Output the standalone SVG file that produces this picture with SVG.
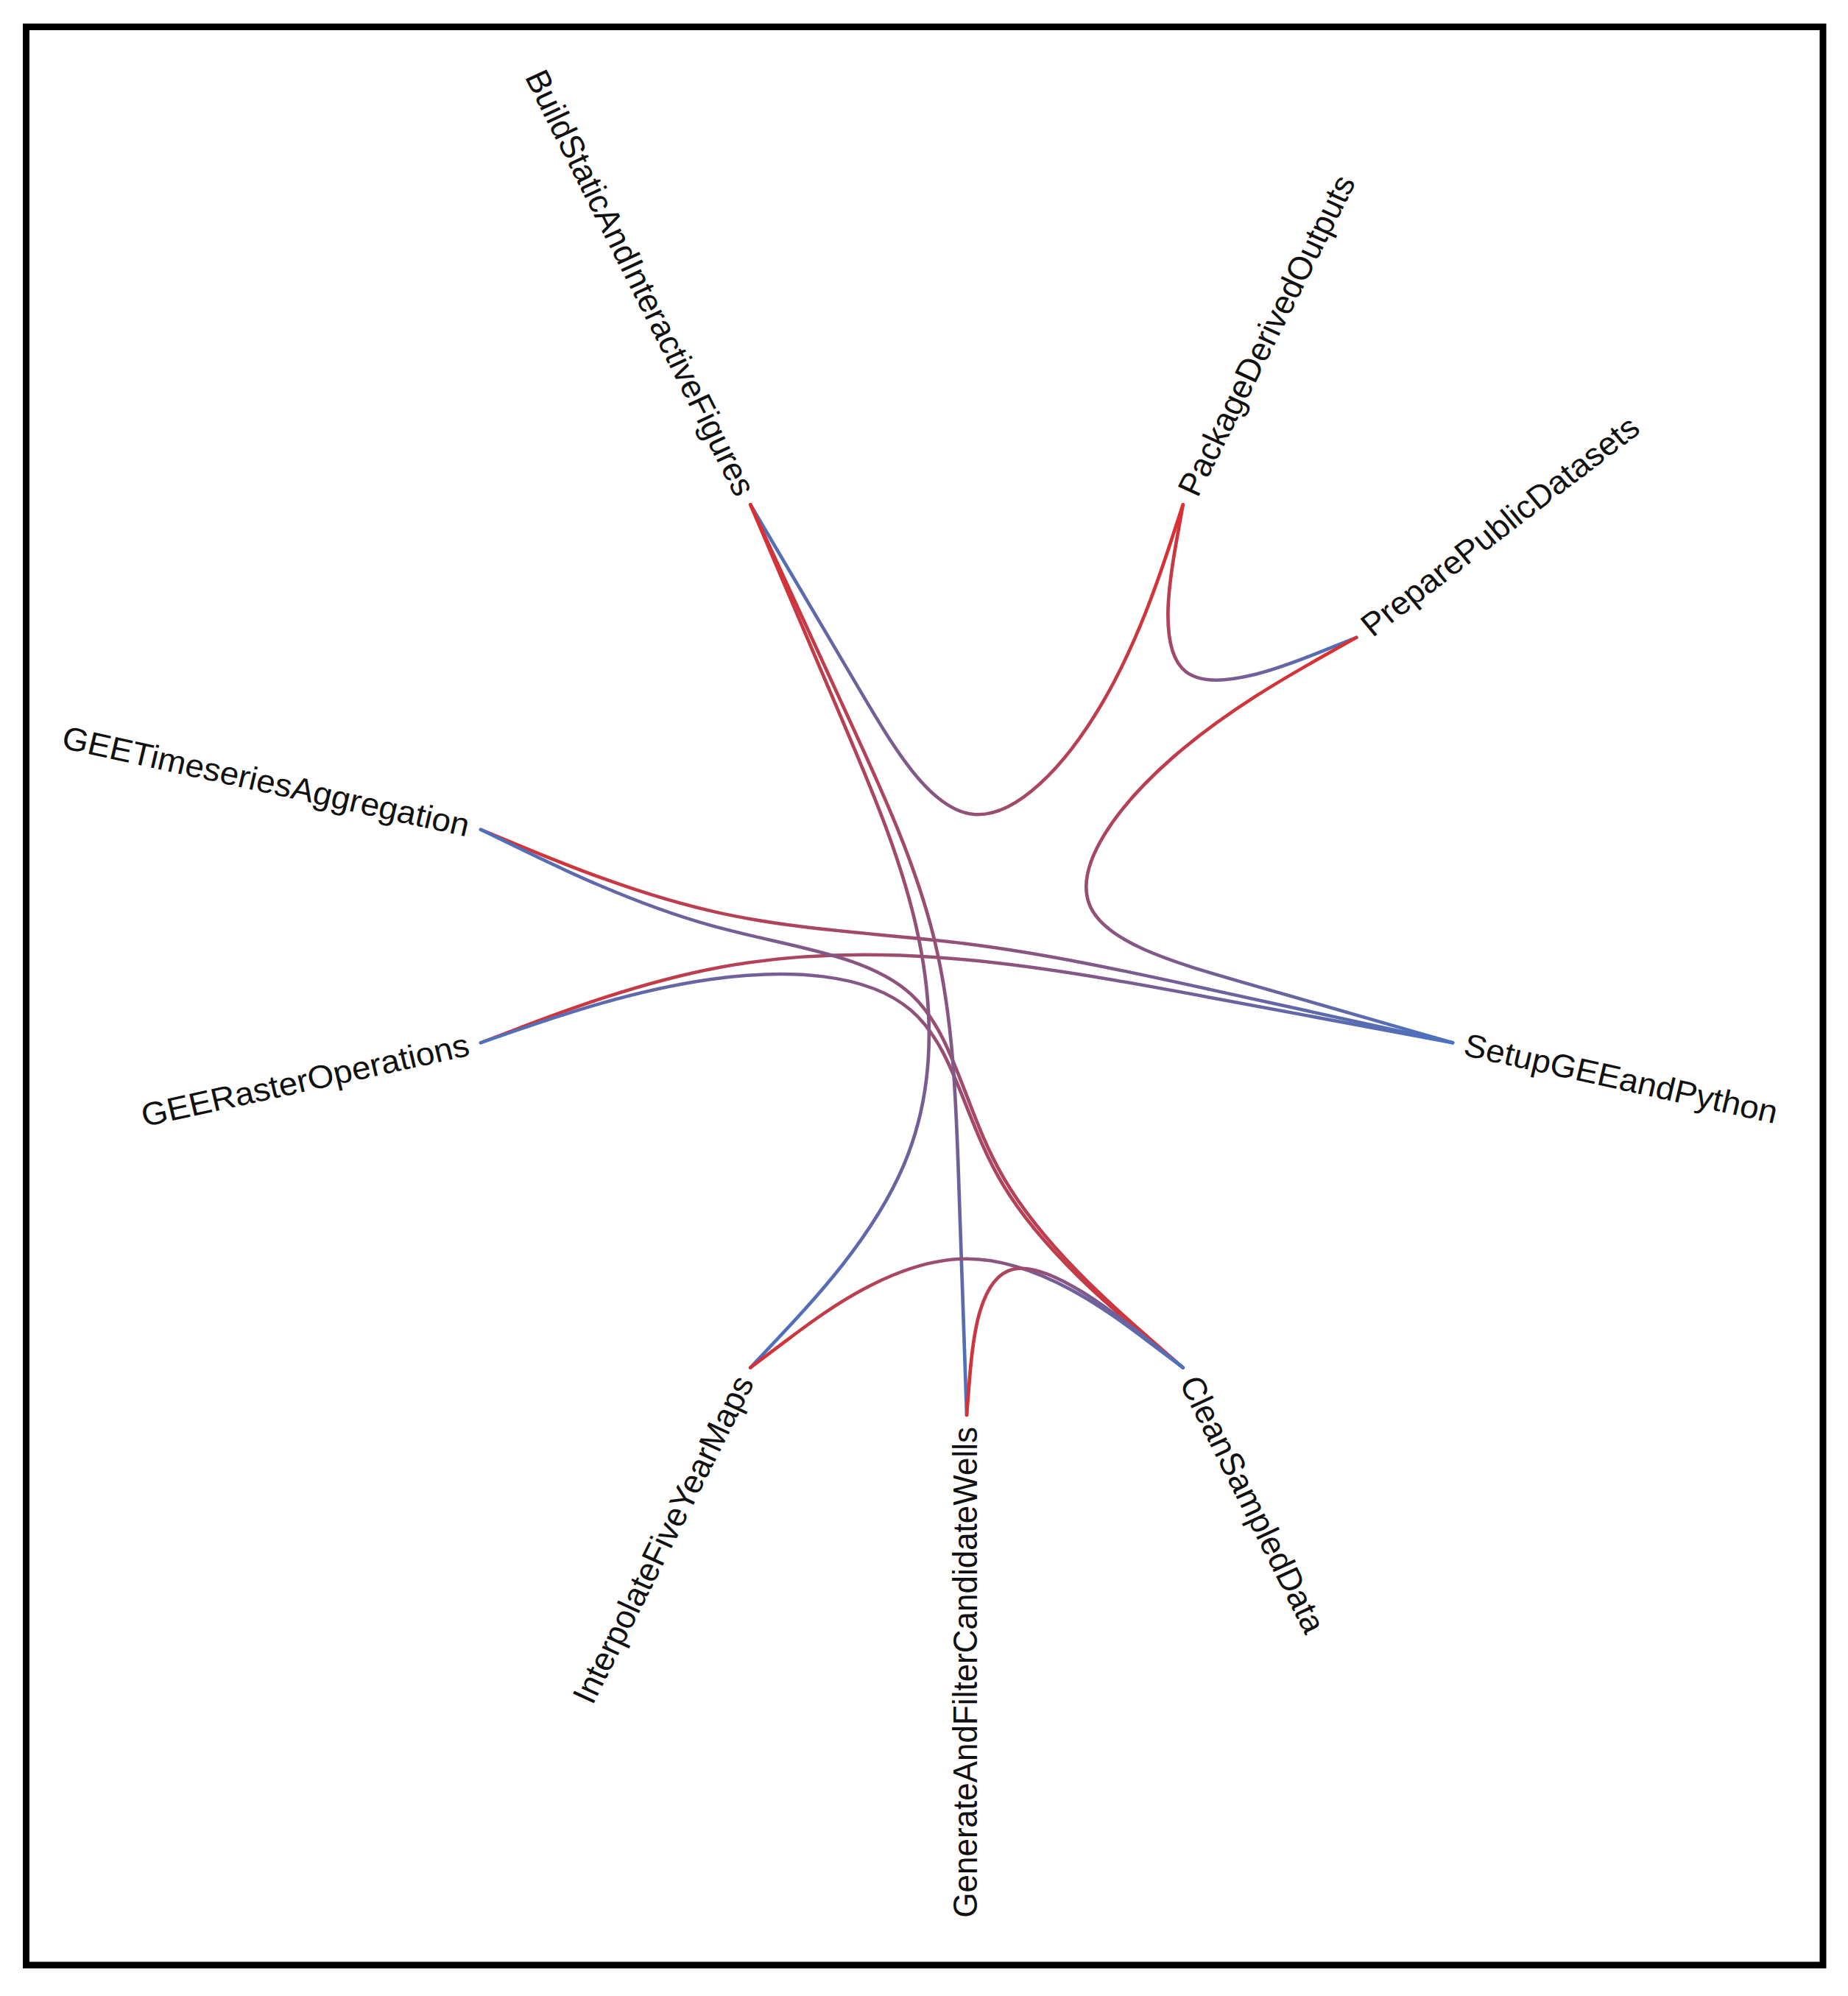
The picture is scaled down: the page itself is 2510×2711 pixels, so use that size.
<svg xmlns="http://www.w3.org/2000/svg" width="2510" height="2711" viewBox="0 0 2510 2711">
<style>
.lbl{font-family:"Liberation Sans",Arial,Helvetica,sans-serif;font-size:44px;fill:#111}
.edge{fill:none;stroke-width:4.5;stroke-linecap:round}
</style>
<defs>
<linearGradient id="gbase"><stop offset="0" stop-color="#dc2f2f"/><stop offset="1" stop-color="#4a72c0"/></linearGradient>
<linearGradient id="g1" href="#gbase" gradientUnits="userSpaceOnUse" x1="282.24" y1="-586.08" x2="-282.24" y2="-586.08"/>
<linearGradient id="g2" href="#gbase" gradientUnits="userSpaceOnUse" x1="282.24" y1="-586.08" x2="508.58" y2="-405.58"/>
<linearGradient id="g3" href="#gbase" gradientUnits="userSpaceOnUse" x1="508.58" y1="-405.58" x2="634.19" y2="144.75"/>
<linearGradient id="g4" href="#gbase" gradientUnits="userSpaceOnUse" x1="-634.19" y1="-144.75" x2="634.19" y2="144.75"/>
<linearGradient id="g5" href="#gbase" gradientUnits="userSpaceOnUse" x1="-634.19" y1="144.75" x2="634.19" y2="144.75"/>
<linearGradient id="g6" href="#gbase" gradientUnits="userSpaceOnUse" x1="282.24" y1="586.08" x2="-634.19" y2="-144.75"/>
<linearGradient id="g7" href="#gbase" gradientUnits="userSpaceOnUse" x1="282.24" y1="586.08" x2="-634.19" y2="144.75"/>
<linearGradient id="g8" href="#gbase" gradientUnits="userSpaceOnUse" x1="-282.24" y1="-586.08" x2="0" y2="650.5"/>
<linearGradient id="g9" href="#gbase" gradientUnits="userSpaceOnUse" x1="-282.24" y1="-586.08" x2="-282.24" y2="586.08"/>
<linearGradient id="g10" href="#gbase" gradientUnits="userSpaceOnUse" x1="-282.24" y1="586.08" x2="282.24" y2="586.08"/>
<linearGradient id="g11" href="#gbase" gradientUnits="userSpaceOnUse" x1="0" y1="650.5" x2="282.24" y2="586.08"/>
</defs>
<rect x="0" y="0" width="2510" height="2711" fill="#fff"/>
<rect x="35.5" y="36.5" width="2440.5" height="2632.5" fill="none" stroke="#000" stroke-width="9"/>
<g transform="translate(1313,1271.5) scale(1.0407,1)">
<g id="connectors">
<path class="edge" stroke="url(#g1)" d="M282.24,-586.08 L267.46,-539.08 C252.67,-492.07 223.11,-398.07 176.07,-315.04 C129.03,-232.01 64.51,-159.96 8.74,-165.45 C-47.04,-170.94 -94.08,-253.96 -141.12,-336.99 C-188.16,-420.02 -235.20,-503.05 -258.72,-544.57 L-282.24,-586.08"/>
<path class="edge" stroke="url(#g2)" d="M282.24,-586.08 L273.81,-536.82 C265.39,-487.56 248.53,-389.04 286.26,-358.96 C323.98,-328.87 416.28,-367.23 462.43,-386.40 L508.58,-405.58"/>
<path class="edge" stroke="url(#g3)" d="M508.58,-405.58 L466.05,-380.71 C423.51,-355.84 338.44,-306.09 267.96,-241.76 C197.48,-177.42 141.60,-98.49 159.36,-45.33 C177.13,7.82 268.54,35.21 359.96,62.59 C451.37,89.98 542.78,117.36 588.49,131.06 L634.19,144.75"/>
<path class="edge" stroke="url(#g4)" d="M-634.19,-144.75 L-582.50,-122.44 C-530.80,-100.12 -427.42,-55.49 -321.72,-31.37 C-216.02,-7.24 -108.01,-3.62 -1.15,10.25 C105.70,24.12 211.41,48.25 317.11,72.37 C422.80,96.50 528.50,120.62 581.34,132.69 L634.19,144.75"/>
<path class="edge" stroke="url(#g5)" d="M-634.19,144.75 L-582.50,124.24 C-530.80,103.74 -427.42,62.72 -321.72,42.22 C-216.02,21.71 -108.01,21.71 -1.15,31.96 C105.70,42.21 211.41,62.72 317.11,83.22 C422.80,103.73 528.50,124.24 581.34,134.50 L634.19,144.75"/>
<path class="edge" stroke="url(#g6)" d="M282.24,586.08 L236.53,544.56 C190.82,503.04 99.39,420.01 47.95,327.84 C-3.49,235.68 -14.94,134.39 -72.48,79.18 C-130.01,23.96 -233.61,14.83 -334.91,-14.82 C-436.21,-44.46 -535.20,-94.60 -584.70,-119.68 L-634.19,-144.75"/>
<path class="edge" stroke="url(#g7)" d="M282.24,586.08 L236.53,546.37 C190.82,506.66 99.39,427.24 47.95,338.70 C-3.49,250.15 -14.94,152.48 -72.48,100.89 C-130.01,49.29 -233.61,43.78 -334.91,58.77 C-436.21,73.76 -535.20,109.25 -584.70,127.00 L-634.19,144.75"/>
<path class="edge" stroke="url(#g8)" d="M-282.24,-586.08 L-260.48,-536.84 C-238.73,-487.59 -195.21,-389.11 -151.70,-290.62 C-108.19,-192.14 -64.68,-93.65 -41.16,9.39 C-17.64,112.44 -14.11,220.05 -10.58,327.66 C-7.05,435.27 -3.53,542.89 -1.76,596.69 L0,650.5"/>
<path class="edge" stroke="url(#g9)" d="M-282.24,-586.08 L-262.25,-537.24 C-242.26,-488.40 -202.27,-390.72 -162.29,-293.04 C-122.31,-195.36 -82.32,-97.68 -62.33,4.56 C-42.34,106.81 -42.34,213.61 -82.32,311.29 C-122.31,408.97 -202.27,497.53 -242.26,541.80 L-282.24,586.08"/>
<path class="edge" stroke="url(#g10)" d="M-282.24,586.08 L-235.20,549.13 C-188.16,512.18 -94.08,438.27 0,438.27 C94.08,438.27 188.16,512.18 235.20,549.13 L282.24,586.08"/>
<path class="edge" stroke="url(#g11)" d="M0,650.5 L3.53,603.62 C7.06,556.73 14.11,462.97 61.15,452.23 C108.19,441.49 195.22,513.79 238.73,549.93 L282.24,586.08"/>
</g>
<g id="node-setup"><text class="lbl" transform="rotate(12.857) translate(666.5,0)" dy="0.31em" text-anchor="start">SetupGEEandPython</text></g>
<g id="node-clean"><text class="lbl" transform="rotate(64.286) translate(666.5,0)" dy="0.31em" text-anchor="start">CleanSampledData</text></g>
<g id="node-generate"><text class="lbl" transform="rotate(90) translate(666.5,0) rotate(180)" dy="0.31em" text-anchor="end">GenerateAndFilterCandidateWells</text></g>
<g id="node-interpolate"><text class="lbl" transform="rotate(115.714) translate(666.5,0) rotate(180)" dy="0.31em" text-anchor="end">InterpolateFiveYearMaps</text></g>
<g id="node-raster"><text class="lbl" transform="rotate(167.143) translate(666.5,0) rotate(180)" dy="0.31em" text-anchor="end">GEERasterOperations</text></g>
<g id="node-timeseries"><text class="lbl" transform="rotate(192.857) translate(666.5,0) rotate(180)" dy="0.31em" text-anchor="end">GEETimeseriesAggregation</text></g>
<g id="node-build"><text class="lbl" transform="rotate(244.286) translate(666.5,0) rotate(180)" dy="0.31em" text-anchor="end">BuildStaticAndInteractiveFigures</text></g>
<g id="node-package"><text class="lbl" transform="rotate(295.714) translate(666.5,0)" dy="0.31em" text-anchor="start">PackageDerivedOutputs</text></g>
<g id="node-prepare"><text class="lbl" transform="rotate(321.429) translate(666.5,0)" dy="0.31em" text-anchor="start">PreparePublicDatasets</text></g>
</g>
</svg>
